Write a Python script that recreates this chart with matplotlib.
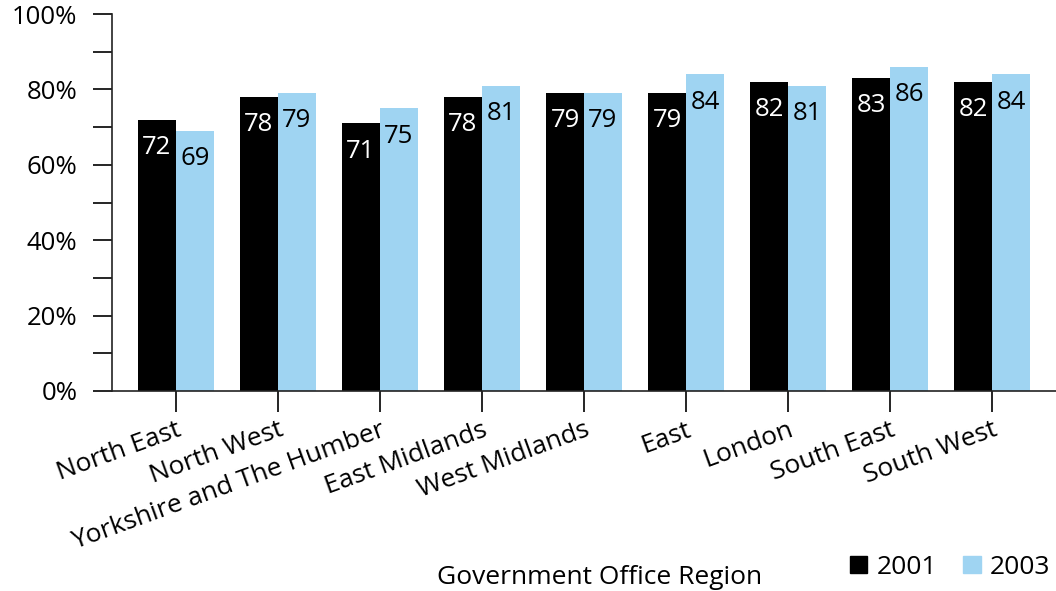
import numpy as np
import matplotlib
matplotlib.use("Agg")
import matplotlib.pyplot as plt
from matplotlib.ticker import MultipleLocator, FuncFormatter
from matplotlib.patches import Patch

regions = ["North East", "North West", "Yorkshire and The Humber", "East Midlands",
           "West Midlands", "East", "London", "South East", "South West"]
vals_2001 = [72, 78, 71, 78, 79, 79, 82, 83, 82]
vals_2003 = [69, 79, 75, 81, 79, 84, 81, 86, 84]

plt.rcParams['font.family'] = ['Open Sans', 'DejaVu Sans']

fig = plt.figure(figsize=(10.56, 5.91), dpi=100)
ax = fig.add_axes([112 / 1056, 200 / 591, 1 - 112 / 1056, 377 / 591])

x = np.arange(len(regions))
w = 0.3725
b1 = ax.bar(x - w / 2, vals_2001, w, color='black', label='2001')
b2 = ax.bar(x + w / 2, vals_2003, w, color='#9fd4f2', label='2003')

# value labels sit just inside the top of each bar
for bars, vals, col in [(b1, vals_2001, 'white'), (b2, vals_2003, 'black')]:
    for bar, v in zip(bars, vals):
        ax.annotate(str(v), (bar.get_x() + bar.get_width() / 2, v),
                    xytext=(0, -11), textcoords='offset points',
                    ha='center', va='top', fontsize=18.5, color=col)

ax.set_ylim(0, 100)
ax.set_xlim(-0.627, len(regions) - 1 + 0.627)
ax.yaxis.set_major_locator(MultipleLocator(20))
ax.yaxis.set_minor_locator(MultipleLocator(10))
ax.yaxis.set_major_formatter(FuncFormatter(lambda v, p: f"{v:.0f}%"))
ax.tick_params(axis='y', which='both', length=14, width=1.2, labelsize=18.5, pad=11)
ax.tick_params(axis='x', length=15, width=1.2, labelsize=19, pad=4)

ax.set_xticks(x)
ax.set_xticklabels(regions, rotation=20, ha='right', rotation_mode='anchor')

for s in ['top', 'right']:
    ax.spines[s].set_visible(False)
for s in ['left', 'bottom']:
    ax.spines[s].set_linewidth(1.2)
    ax.spines[s].set_color('#222222')

fig.text(600 / 1056, 13 / 591, "Government Office Region", ha='center', va='center', fontsize=19)
handles = [Patch(color='black'), Patch(color='#9fd4f2')]
fig.legend(handles, ['2001', '2003'], loc='lower right', bbox_to_anchor=(1.012, -0.012),
           ncol=2, frameon=False, fontsize=19, handlelength=0.65, handleheight=0.65,
           handletextpad=0.35, columnspacing=1.0, borderpad=0.2)

fig.savefig("out.png", dpi=100)
